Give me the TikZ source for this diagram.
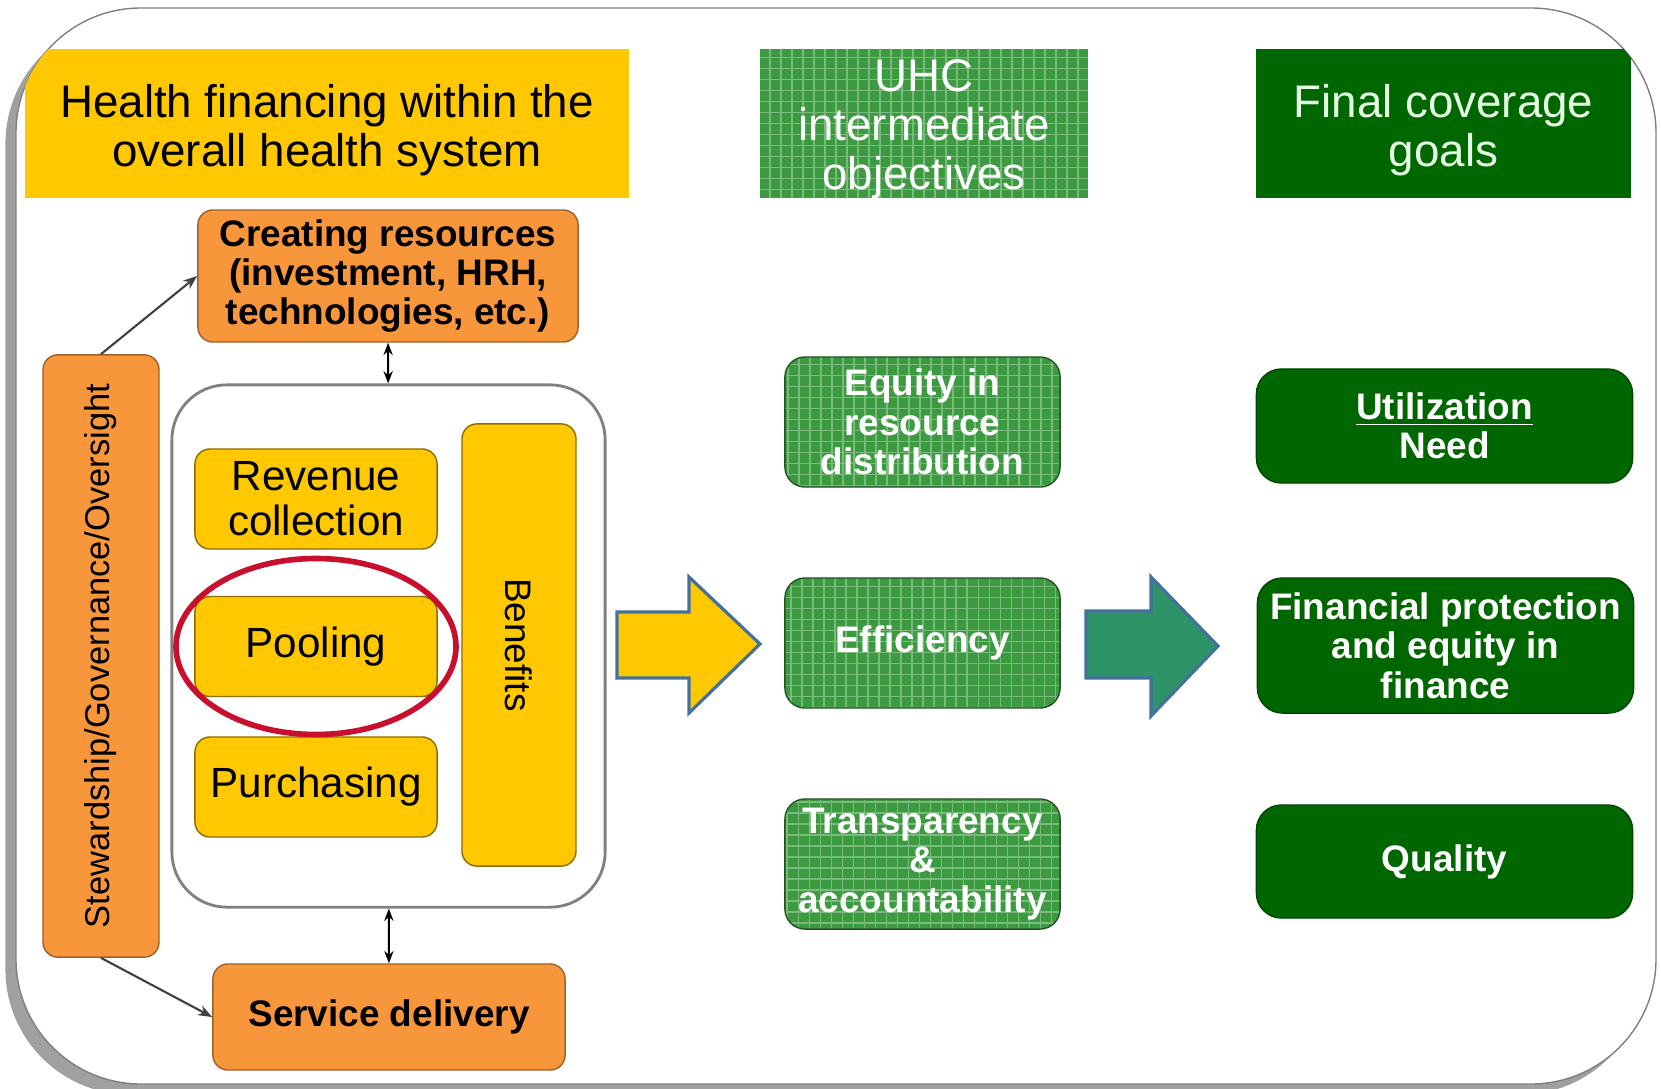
\documentclass[tikz,border=0pt]{standalone}
\usepackage{fontspec}
\setmainfont{Liberation Sans}
\usetikzlibrary{arrows.meta,shadows}

\definecolor{hfyellow}{HTML}{FFC800}
\definecolor{hforange}{HTML}{F7963A}
\definecolor{hfgreen}{HTML}{3C9B40}
\definecolor{hfdark}{HTML}{006600}
\definecolor{hfteal}{HTML}{2E9366}
\definecolor{hfblue}{HTML}{41719C}
\definecolor{hfred}{HTML}{C8102E}

\begin{document}
\begin{tikzpicture}[x=0.01cm, y=-0.01cm,
    header/.style={inner sep=0pt, align=center, font=\fontsize{13}{14}\selectfont},
    hdrbg/.style={inner sep=0pt, minimum height=1.49cm},
    orangebox/.style={draw=hforange!65!black, fill=hforange, rounded corners=0.15cm, align=center,
        inner sep=0pt, font=\fontsize{10.5}{11.2}\selectfont\bfseries},
    yellowbox/.style={draw=hfyellow!55!black, fill=hfyellow, rounded corners=0.15cm, align=center,
        inner sep=0pt, minimum width=2.42cm, minimum height=1.0cm, font=\fontsize{12}{12.8}\selectfont},
    gridfill/.style={fill=hfgreen,
        path picture={\draw[white, opacity=0.32, line width=0.5pt] (path picture bounding box.south west)
            grid[step=0.11cm] (path picture bounding box.north east);}},
    gridbox/.style={gridfill, draw=hfgreen!55!black, rounded corners=0.2cm, text=white, align=center,
        inner sep=0pt, minimum width=2.75cm, minimum height=1.3cm, font=\fontsize{10.5}{11.2}\selectfont\bfseries},
    goalbox/.style={draw=hfdark!70!black, fill=hfdark, rounded corners=0.25cm, text=white, align=center,
        inner sep=0pt, minimum width=3.76cm, font=\fontsize{10.5}{11.2}\selectfont\bfseries},
    bigarrow/.style={draw=hfblue, line width=0.9pt, line join=miter},
    dbl/.style={{Stealth[length=3.5pt]}-{Stealth[length=3.5pt]}, line width=0.6pt},
    gov/.style={-{Stealth[length=4pt]}, line width=0.6pt, black!75}
  ]
  \useasboundingbox (0,0) rectangle (1661,1088);

  % frame
  \draw[draw=gray, fill=white, rounded corners=1.25cm,
        drop shadow={shadow xshift=-3pt, shadow yshift=-3pt, opacity=0.75}] (16,8) rectangle (1656,1084);

  \begin{scope}
    \clip[rounded corners=1.25cm] (16,8) rectangle (1656,1084);
    \node[hdrbg, fill=hfyellow, minimum width=6.04cm] (hsysbg) at (327,123.5) {};
    \node[hdrbg, gridfill, minimum width=3.28cm] (huhcbg) at (924,123.5) {};
    \node[hdrbg, fill=hfdark, minimum width=3.75cm] (hgoalbg) at (1443.5,123.5) {};
  \end{scope}
  \node[header] (hsys) at ([yshift=-2pt]hsysbg) {Health financing within the\\overall health system};
  \node[header, text=white] (huhc) at ([yshift=-1.6pt]huhcbg) {UHC\\intermediate\\objectives};
  \node[header, text=white!90!green] (hgoal) at ([yshift=-2pt]hgoalbg) {Final coverage\\goals};

  % health system side
  \node[orangebox, minimum width=3.8cm, minimum height=1.32cm] (cres) at (388,276)
      {Creating resources\\(investment, HRH,\\technologies, etc.)};
  \node[draw=gray, line width=0.8pt, fill=white, rounded corners=0.55cm,
        minimum width=4.33cm, minimum height=5.22cm] (fnbox) at (388.5,646) {};
  \node[yellowbox] (rev) at (316,499) {Revenue\\collection};
  \node[yellowbox] (pool) at (316,646.5) {Pooling};
  \node[yellowbox] (purch) at (316,787) {Purchasing};
  \node[yellowbox, rotate=-90, minimum width=4.42cm, minimum height=1.14cm,
        font=\fontsize{10.5}{11}\selectfont] (bens) at (519,645) {Benefits};
  \draw[hfred, line width=1.6pt] (pool) ellipse [x radius=140, y radius=88];
  \node[orangebox, rotate=90, minimum width=6.02cm, minimum height=1.16cm,
        font=\fontsize{9.8}{10}\selectfont] (stew) at (101,656) {Stewardship/Governance/Oversight};
  \node[orangebox, minimum width=3.52cm, minimum height=1.06cm] (sdel) at (389,1017) {Service delivery};

  \draw[dbl] (cres) -- (fnbox);
  \draw[dbl] (fnbox) -- (sdel);
  \draw[gov] (stew.east) -- (cres.west);
  \draw[gov] (stew.west) -- (sdel.west);

  % intermediate objectives
  \node[gridbox] (equity) at (922.5,422) {Equity in\\resource\\distribution};
  \node[gridbox] (effic) at (922.5,643) {Efficiency};
  \node[gridbox] (transp) at (922.5,864) {Transparency\\\&\\accountability};

  % final goals
  \node[goalbox, minimum height=1.14cm] (util) at (1444.5,426) {\underline{Utilization}\\Need};
  \node[goalbox, minimum height=1.35cm] (finprot) at (1445.5,645.5)
      {Financial protection\\and equity in\\finance};
  \node[goalbox, minimum height=1.13cm] (qual) at (1444.5,861.5) {Quality};

  % big arrows
  \draw[bigarrow, fill=hfyellow] (617,612) -- (689,612) -- (689,577) -- (760,644)
      -- (689,713) -- (689,678) -- (617,678) -- cycle;
  \draw[bigarrow, fill=hfteal] (1086,611) -- (1151,611) -- (1151,577) -- (1218,646)
      -- (1151,716) -- (1151,678) -- (1086,678) -- cycle;
\end{tikzpicture}
\end{document}
